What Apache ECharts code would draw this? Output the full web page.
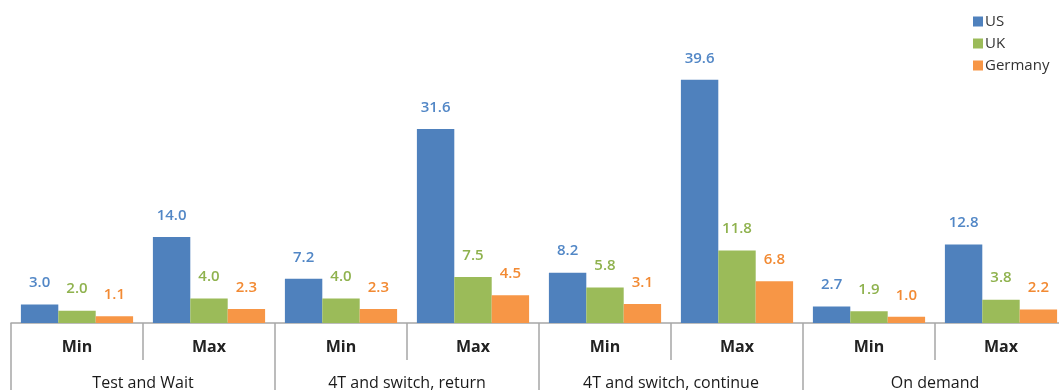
<!DOCTYPE html>
<html>
<head>
<meta charset="utf-8">
<script src="https://cdn.jsdelivr.net/npm/echarts@6/dist/echarts.min.js"></script>
<style>
  html, body { margin: 0; padding: 0; background: #fff; }
  #chart { width: 1059px; height: 390px; }
</style>
</head>
<body>
<div id="chart"></div>
<script>
// Test scenarios, each with a Min and a Max estimate
const groups = ['Test and Wait', '4T and switch, return', '4T and switch, continue', 'On demand'];
const bounds = ['Min', 'Max', 'Min', 'Max', 'Min', 'Max', 'Min', 'Max'];

const usValues      = [3.0, 14.0, 7.2, 31.6, 8.2, 39.6, 2.7, 12.8];
const ukValues      = [2.0, 4.0, 4.0, 7.5, 5.8, 11.8, 1.9, 3.8];
const germanyValues = [1.1, 2.3, 2.3, 4.5, 3.1, 6.8, 1.0, 2.2];

const seriesNames  = ['US', 'UK', 'Germany'];
const seriesColors = ['#4f81bd', '#9bbb59', '#f79646'];
const labelColors  = ['#5287c6', '#8fb24e', '#f28a33'];

const font = 'Open Sans, Liberation Sans, sans-serif';
const gridLine = '#a6a6a6';

const chart = echarts.init(document.getElementById('chart'), null, { renderer: 'canvas' });

function barSeries(i, data) {
  return {
    name: seriesNames[i],
    type: 'bar',
    xAxisIndex: 0,
    data: data,
    barGap: '0%',
    barCategoryGap: '15%',
    itemStyle: { color: seriesColors[i] },
    label: {
      show: true,
      position: 'top',
      distance: 14,
      color: labelColors[i],
      fontFamily: font,
      fontSize: 15,
      fontWeight: 600,
      formatter: p => p.value.toFixed(1)
    }
  };
}

chart.setOption({
  animation: false,
  backgroundColor: '#ffffff',
  textStyle: { fontFamily: font },
  legend: {
    orient: 'vertical',
    left: 968,
    top: 9,
    itemWidth: 10,
    itemHeight: 10,
    itemGap: 7,
    icon: 'rect',
    textStyle: { fontFamily: font, fontSize: 15, color: '#333', padding: [0, 0, 0, -3] },
    data: seriesNames
  },
  grid: {
    left: 11, right: -8, top: 16, bottom: 67,
    containLabel: false,
    outerBoundsMode: 'none'
  },
  xAxis: [
    {
      type: 'category',
      data: bounds,
      position: 'bottom',
      axisLine: { show: true, lineStyle: { color: gridLine, width: 1.5 } },
      axisTick: { show: true, interval: 0, length: 37, lineStyle: { color: gridLine, width: 1.5 } },
      axisLabel: {
        interval: 0,
        margin: 16,
        fontFamily: font,
        fontSize: 16,
        fontWeight: 'bold',
        color: '#222'
      }
    },
    {
      type: 'category',
      data: groups,
      position: 'bottom',
      axisLine: { show: false },
      axisTick: { show: true, interval: 0, length: 67, lineStyle: { color: gridLine, width: 1.5 } },
      axisLabel: {
        interval: 0,
        margin: 52,
        fontFamily: font,
        fontSize: 16,
        fontWeight: 500,
        color: '#1a1a1a'
      }
    }
  ],
  yAxis: {
    type: 'value',
    min: 0,
    max: 50,
    show: false,
    splitLine: { show: false }
  },
  series: [
    barSeries(0, usValues),
    barSeries(1, ukValues),
    barSeries(2, germanyValues)
  ]
});
</script>
</body>
</html>
